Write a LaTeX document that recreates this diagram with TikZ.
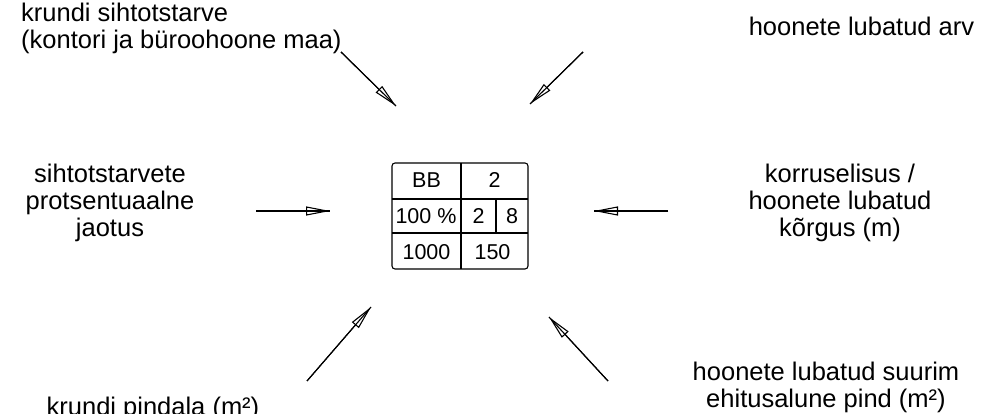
\documentclass[tikz,border=0pt]{standalone}
\usepackage{fontspec}
\setmainfont{Liberation Sans}
\usetikzlibrary{arrows.meta}
\begin{document}
\begin{tikzpicture}[x=1pt,y=-1pt,
  lbl/.style={font=\fontsize{25.5}{27}\selectfont, align=center, inner sep=0pt},
  cell/.style={font=\fontsize{21.5}{22}\selectfont, inner sep=0pt, anchor=base},
  grid/.style={line width=1.1pt},
  arr/.style={line width=1.1pt, -{Triangle[open, length=24pt, width=9pt, line width=1.1pt]}, postaction={draw, -, line width=1.1pt}}]
\useasboundingbox (0,0) rectangle (989,414);
% table
\draw[grid, rounded corners=3pt] (392,163) rectangle (528,269);
\draw[grid] (392,199) -- (528,199);
\draw[grid] (392,233) -- (528,233);
\draw[grid] (461,163) -- (461,269);
\draw[grid] (496,199) -- (496,233);
\node[cell] (bb) at (426.5,187.5) {BB};
\node[cell] (k2) at (494.5,187.5) {2};
\node[cell] (pc) at (426,224) {100 \%};
\node[cell] (m2) at (478.5,224) {2};
\node[cell] (m8) at (512,224) {8};
\node[cell] (a1) at (426.5,260) {1000};
\node[cell] (a2) at (492.5,260) {150};
% labels
\node[lbl, anchor=base west, align=left] (tl) at (21,49) {krundi sihtotstarve\\(kontori ja büroohoone maa)};
\node[lbl, anchor=base] (tr) at (861.5,36) {hoonete lubatud arv};
\node[lbl, anchor=base] (l) at (110,237) {sihtotstarvete\\protsentuaalne\\jaotus};
\node[lbl, anchor=base] (r) at (840,237) {korruselisus /\\hoonete lubatud\\kõrgus (m)};
\node[lbl, anchor=base] (br) at (826,407) {hoonete lubatud suurim\\ehitusalune pind (m²)};
\node[lbl, anchor=base] (bl) at (153,415) {krundi pindala (m²)};
% arrow ends
\coordinate (s1) at (341,52);  \coordinate (e1) at (396,106);
\coordinate (s2) at (583,52);  \coordinate (e2) at (530,104);
\coordinate (s3) at (256,211); \coordinate (e3) at (330,211);
\coordinate (s4) at (668,211); \coordinate (e4) at (594,211);
\coordinate (s5) at (307,381); \coordinate (e5) at (371,307);
\coordinate (s6) at (608,381); \coordinate (e6) at (549,317);
\draw[arr] (s1) -- (e1);
\draw[arr] (s2) -- (e2);
\draw[arr] (s3) -- (e3);
\draw[arr] (s4) -- (e4);
\draw[arr] (s5) -- (e5);
\draw[arr] (s6) -- (e6);
\end{tikzpicture}
\end{document}
